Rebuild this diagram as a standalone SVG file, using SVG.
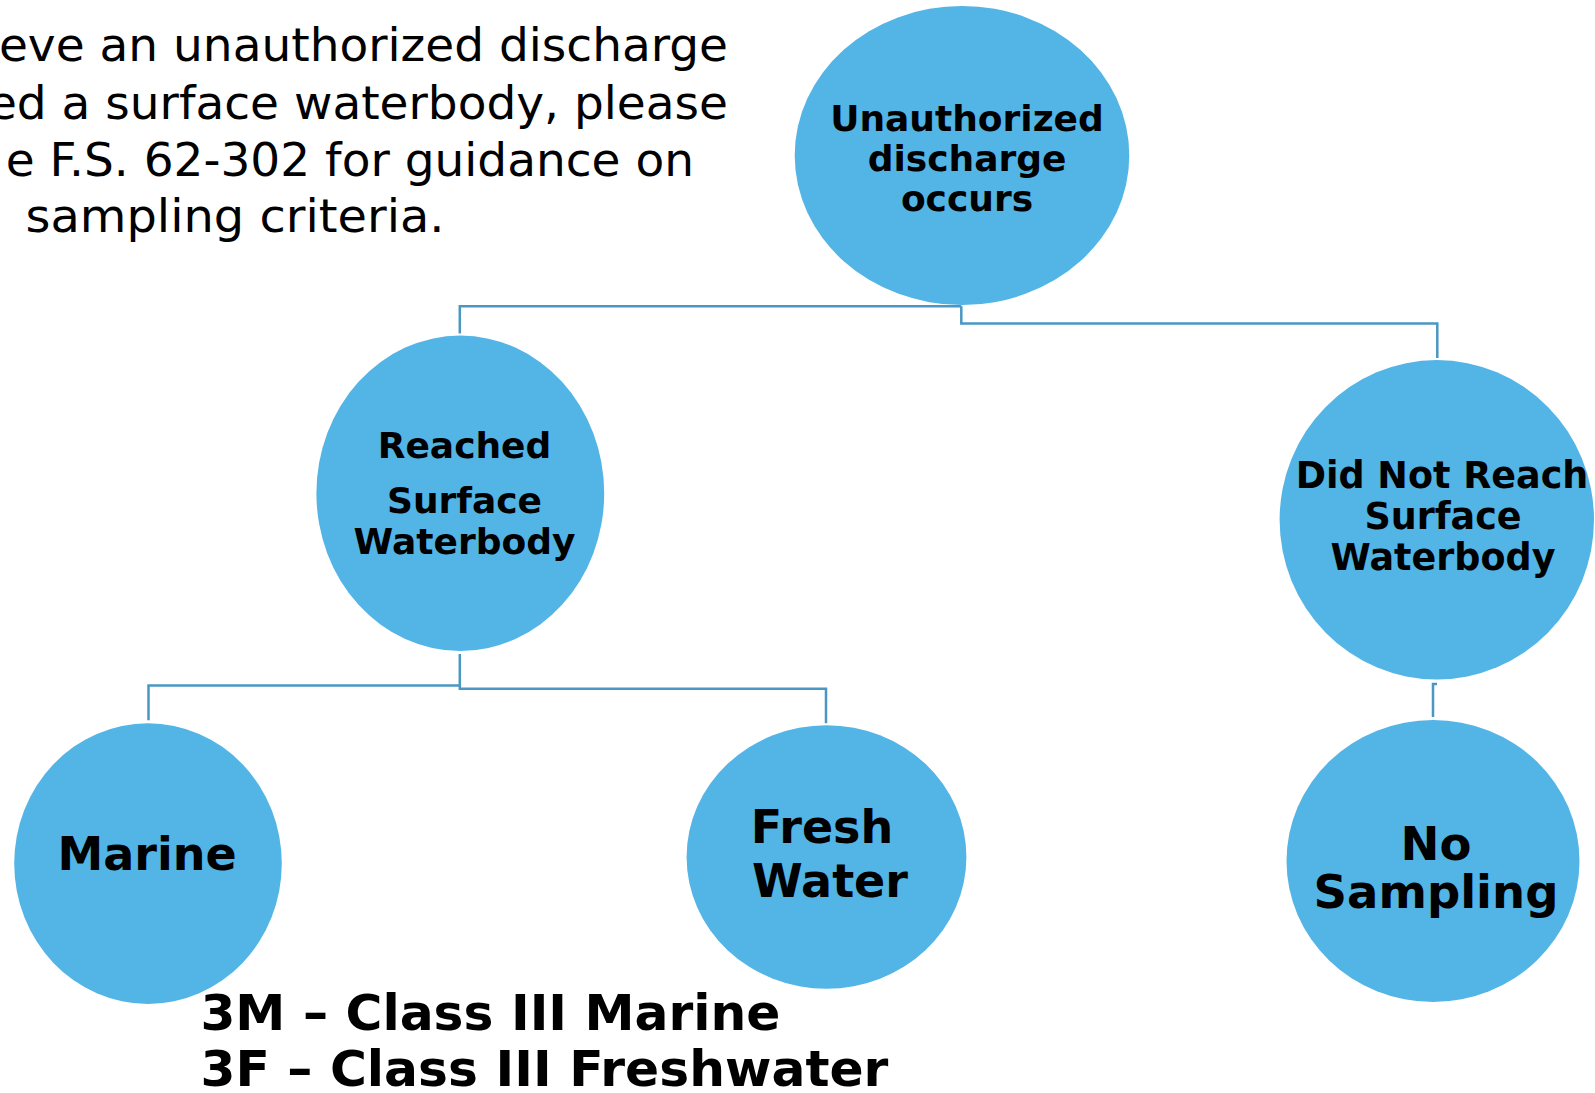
<svg xmlns="http://www.w3.org/2000/svg" width="1595" height="1093" viewBox="0 0 1595 1093">
<style>
.node{fill:#53B4E6;}
.lbl{font-family:"DejaVu Sans","Verdana",sans-serif;font-weight:bold;fill:#000;text-anchor:middle;}
.conn{fill:none;stroke:#4A97C4;stroke-width:2.5;}
.note{font-family:"DejaVu Sans","Verdana",sans-serif;font-size:47px;fill:#000;}
.legend{font-family:"DejaVu Sans","Verdana",sans-serif;font-weight:bold;font-size:49px;fill:#000;}
</style>
<rect width="1595" height="1093" fill="#fff"/>
<g id="note">
<text class="note" x="728" y="61" text-anchor="end">eve an unauthorized discharge</text>
<text class="note" x="728" y="119" text-anchor="end">ed a surface waterbody, please</text>
<text class="note" x="694" y="176" text-anchor="end">e F.S. 62-302 for guidance on</text>
<text class="note" x="25.5" y="232" textLength="419" lengthAdjust="spacingAndGlyphs">sampling criteria.</text>
</g>
<g id="connectors">
<path class="conn" d="M961.3,306.2 H459.8 V333.6"/>
<path class="conn" d="M961.3,306.2 V323.5 H1437.3 V358"/>
<path class="conn" d="M459.8,654 V685.6 H148.5 V720.2"/>
<path class="conn" d="M459.8,685.6 V688.7 H826 V723.2"/>
<path class="conn" d="M1437,684 H1433 V717"/>
</g>
<g id="n-unauthorized">
<ellipse class="node" cx="962" cy="155.5" rx="167.3" ry="149.5"/>
<text class="lbl" font-size="36" x="967" y="131">Unauthorized</text>
<text class="lbl" font-size="36" x="967" y="171">discharge</text>
<text class="lbl" font-size="36" x="967" y="211">occurs</text>
</g>
<g id="n-reached">
<ellipse class="node" cx="460.3" cy="493.3" rx="143.9" ry="157.7"/>
<text class="lbl" font-size="36" x="464.5" y="457.7">Reached</text>
<text class="lbl" font-size="36" x="464.5" y="512.7">Surface</text>
<text class="lbl" font-size="36" x="464.5" y="554.4">Waterbody</text>
</g>
<g id="n-notreach">
<ellipse class="node" cx="1436.8" cy="519.8" rx="157.2" ry="159.7"/>
<text class="lbl" font-size="36.5" x="1442" y="488.3">Did Not Reach</text>
<text class="lbl" font-size="36.5" x="1443" y="529">Surface</text>
<text class="lbl" font-size="36.5" x="1443" y="569.6">Waterbody</text>
</g>
<g id="n-marine">
<ellipse class="node" cx="148" cy="863.6" rx="133.8" ry="140.4"/>
<text class="lbl" font-size="46" x="147" y="869.7">Marine</text>
</g>
<g id="n-fresh">
<ellipse class="node" cx="826.5" cy="857" rx="139.9" ry="131.7"/>
<text class="lbl" font-size="46" x="822" y="843.3">Fresh</text>
<text class="lbl" font-size="46" x="830" y="897.2">Water</text>
</g>
<g id="n-nosampling">
<ellipse class="node" cx="1433" cy="861" rx="146.5" ry="141"/>
<text class="lbl" font-size="46.5" x="1436" y="859.6">No</text>
<text class="lbl" font-size="46.5" x="1436" y="908.4">Sampling</text>
</g>
<g id="legend">
<text class="legend" x="200.4" y="1030.4" textLength="580" lengthAdjust="spacingAndGlyphs">3M – Class III Marine</text>
<text class="legend" x="200.4" y="1086.4" textLength="688" lengthAdjust="spacingAndGlyphs">3F – Class III Freshwater</text>
</g>
</svg>
